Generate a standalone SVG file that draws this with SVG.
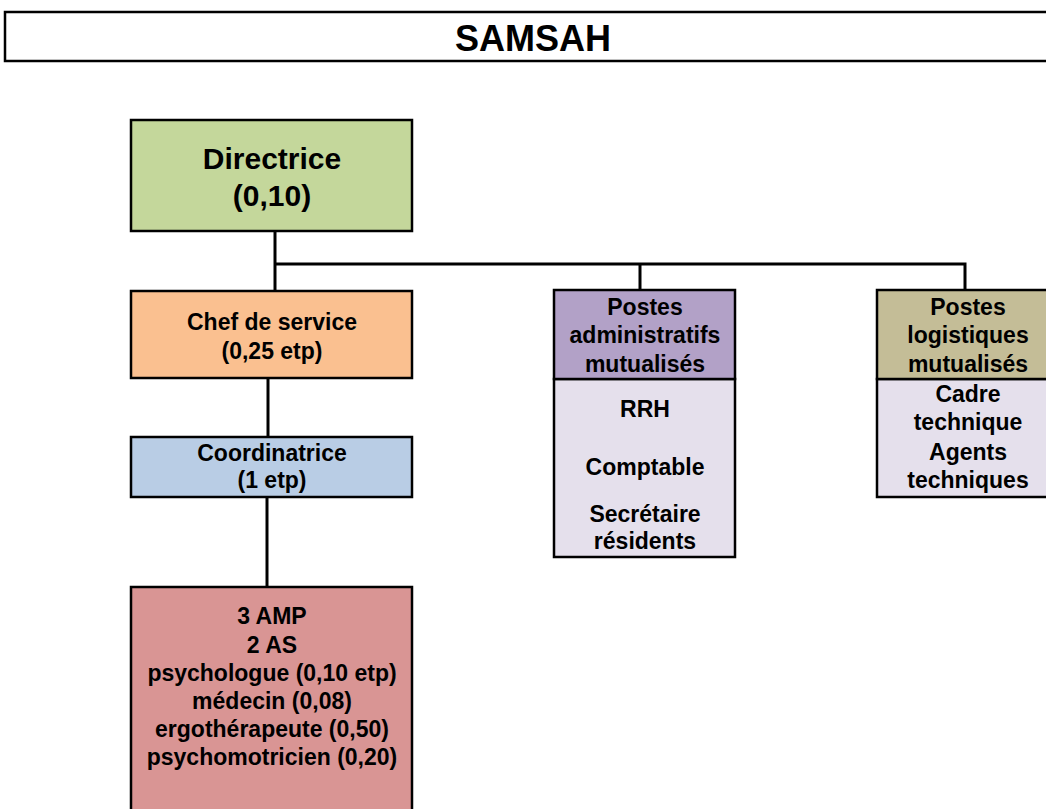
<svg xmlns="http://www.w3.org/2000/svg" width="1046" height="809" viewBox="0 0 1046 809">
<style>
.box{stroke:#000;stroke-width:2.5}
.t{font-family:"Liberation Sans",Arial,sans-serif;font-weight:bold;fill:#000;text-anchor:middle;font-size:23px}
.conn{stroke:#000;stroke-width:3;fill:none}
</style>
<rect x="0" y="0" width="1046" height="809" fill="#fff"/>
<g id="title">
<rect class="box" x="5" y="12" width="1060" height="49" fill="#fff"/>
<text class="t" x="533" y="51" style="font-size:36px">SAMSAH</text>
</g>
<g id="connectors">
<path class="conn" d="M275,231 V291"/>
<path class="conn" d="M275,264 H965 V290"/>
<path class="conn" d="M640,264 V290"/>
<path class="conn" d="M268,378 V437"/>
<path class="conn" d="M267,497 V587"/>
</g>
<g id="directrice">
<rect class="box" x="131" y="120" width="281" height="111" fill="#c4d79b"/>
<text class="t" x="272" y="169" style="font-size:30px">Directrice</text>
<text class="t" x="272" y="206" style="font-size:30px">(0,10)</text>
</g>
<g id="chef">
<rect class="box" x="131" y="291" width="281" height="87" fill="#fac090"/>
<text class="t" x="272" y="330">Chef de service</text>
<text class="t" x="272" y="359">(0,25 etp)</text>
</g>
<g id="coordinatrice">
<rect class="box" x="131" y="437" width="281" height="60" fill="#b9cde5"/>
<text class="t" x="272" y="461">Coordinatrice</text>
<text class="t" x="272" y="488">(1 etp)</text>
</g>
<g id="equipe">
<rect class="box" x="131" y="587" width="281" height="240" fill="#d99594"/>
<text class="t" x="272" y="624">3 AMP</text>
<text class="t" x="272" y="653">2 AS</text>
<text class="t" x="272" y="681">psychologue (0,10 etp)</text>
<text class="t" x="272" y="709">médecin (0,08)</text>
<text class="t" x="272" y="737">ergothérapeute (0,50)</text>
<text class="t" x="272" y="765">psychomotricien (0,20)</text>
</g>
<g id="admin">
<rect class="box" x="554" y="379" width="181" height="178" fill="#e5e0ec"/>
<rect class="box" x="554" y="290" width="181" height="89" fill="#b2a1c7"/>
<text class="t" x="645" y="315">Postes</text>
<text class="t" x="645" y="343">administratifs</text>
<text class="t" x="645" y="372">mutualisés</text>
<text class="t" x="645" y="417">RRH</text>
<text class="t" x="645" y="475">Comptable</text>
<text class="t" x="645" y="522">Secrétaire</text>
<text class="t" x="645" y="549">résidents</text>
</g>
<g id="logistique">
<rect class="box" x="877" y="379" width="182" height="118" fill="#e5e0ec"/>
<rect class="box" x="877" y="290" width="182" height="89" fill="#c4bd97"/>
<text class="t" x="968" y="315">Postes</text>
<text class="t" x="968" y="343">logistiques</text>
<text class="t" x="968" y="372">mutualisés</text>
<text class="t" x="968" y="402">Cadre</text>
<text class="t" x="968" y="430">technique</text>
<text class="t" x="968" y="460">Agents</text>
<text class="t" x="968" y="488">techniques</text>
</g>
</svg>
